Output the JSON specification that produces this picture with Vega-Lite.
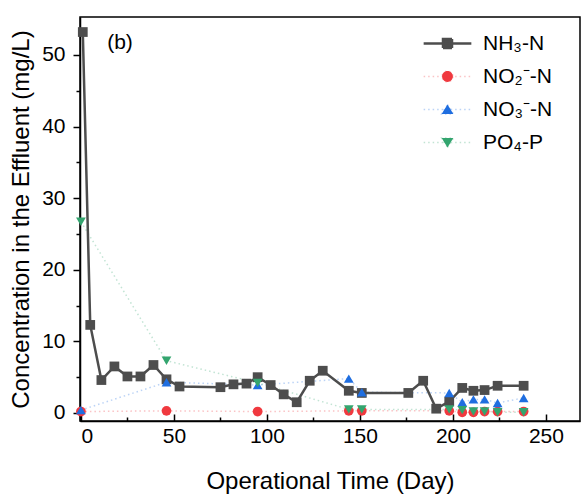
{
  "$schema": "https://vega.github.io/schema/vega-lite/v6.json",
  "width": 500,
  "height": 404,
  "autosize": "none",
  "padding": {"left": 80, "top": 17, "right": 8, "bottom": 79},
  "config": {
    "font": "Liberation Sans",
    "view": {"stroke": "black", "strokeWidth": 1.5},
    "axis": {"grid": false, "domainColor": "black", "domainWidth": 1.5, "tickColor": "black", "tickWidth": 1.5, "labelColor": "black", "titleColor": "black", "labelFontSize": 21, "titleFontSize": 24, "titleFontWeight": "normal"}
  },
  "data": {
    "values": [
      {"series": "NH₃-N", "day": 1, "value": 53.2},
      {"series": "NH₃-N", "day": 5, "value": 12.3},
      {"series": "NH₃-N", "day": 11, "value": 4.6},
      {"series": "NH₃-N", "day": 18, "value": 6.5},
      {"series": "NH₃-N", "day": 25, "value": 5.1},
      {"series": "NH₃-N", "day": 32, "value": 5.1},
      {"series": "NH₃-N", "day": 39, "value": 6.7},
      {"series": "NH₃-N", "day": 46, "value": 4.7},
      {"series": "NH₃-N", "day": 53, "value": 3.7},
      {"series": "NH₃-N", "day": 75, "value": 3.6},
      {"series": "NH₃-N", "day": 82, "value": 4.0},
      {"series": "NH₃-N", "day": 89, "value": 4.1},
      {"series": "NH₃-N", "day": 95, "value": 5.0},
      {"series": "NH₃-N", "day": 102, "value": 3.9},
      {"series": "NH₃-N", "day": 109, "value": 2.6},
      {"series": "NH₃-N", "day": 116, "value": 1.5},
      {"series": "NH₃-N", "day": 123, "value": 4.5},
      {"series": "NH₃-N", "day": 130, "value": 5.9},
      {"series": "NH₃-N", "day": 144, "value": 3.1},
      {"series": "NH₃-N", "day": 151, "value": 2.8},
      {"series": "NH₃-N", "day": 176, "value": 2.8},
      {"series": "NH₃-N", "day": 184, "value": 4.5},
      {"series": "NH₃-N", "day": 191, "value": 0.6},
      {"series": "NH₃-N", "day": 198, "value": 1.6},
      {"series": "NH₃-N", "day": 205, "value": 3.5},
      {"series": "NH₃-N", "day": 211, "value": 3.1},
      {"series": "NH₃-N", "day": 217, "value": 3.2},
      {"series": "NH₃-N", "day": 224, "value": 3.8},
      {"series": "NH₃-N", "day": 238, "value": 3.8},
      {"series": "NO₂⁻-N", "day": 0, "value": 0.2},
      {"series": "NO₂⁻-N", "day": 46, "value": 0.3},
      {"series": "NO₂⁻-N", "day": 95, "value": 0.2},
      {"series": "NO₂⁻-N", "day": 144, "value": 0.3},
      {"series": "NO₂⁻-N", "day": 151, "value": 0.3},
      {"series": "NO₂⁻-N", "day": 198, "value": 0.3},
      {"series": "NO₂⁻-N", "day": 205, "value": 0.1},
      {"series": "NO₂⁻-N", "day": 211, "value": 0.1},
      {"series": "NO₂⁻-N", "day": 217, "value": 0.2},
      {"series": "NO₂⁻-N", "day": 224, "value": 0.2},
      {"series": "NO₂⁻-N", "day": 238, "value": 0.2},
      {"series": "NO₃⁻-N", "day": 0, "value": 0.4},
      {"series": "NO₃⁻-N", "day": 46, "value": 4.3},
      {"series": "NO₃⁻-N", "day": 95, "value": 3.9},
      {"series": "NO₃⁻-N", "day": 144, "value": 4.8},
      {"series": "NO₃⁻-N", "day": 151, "value": 2.9},
      {"series": "NO₃⁻-N", "day": 198, "value": 2.8},
      {"series": "NO₃⁻-N", "day": 205, "value": 1.5},
      {"series": "NO₃⁻-N", "day": 211, "value": 1.9},
      {"series": "NO₃⁻-N", "day": 217, "value": 1.9},
      {"series": "NO₃⁻-N", "day": 224, "value": 1.4},
      {"series": "NO₃⁻-N", "day": 238, "value": 2.1},
      {"series": "PO₄-P", "day": 0, "value": 26.7},
      {"series": "PO₄-P", "day": 46, "value": 7.3},
      {"series": "PO₄-P", "day": 95, "value": 4.2},
      {"series": "PO₄-P", "day": 144, "value": 0.5},
      {"series": "PO₄-P", "day": 151, "value": 0.5},
      {"series": "PO₄-P", "day": 198, "value": 0.5},
      {"series": "PO₄-P", "day": 205, "value": 0.4},
      {"series": "PO₄-P", "day": 211, "value": 0.2},
      {"series": "PO₄-P", "day": 217, "value": 0.2},
      {"series": "PO₄-P", "day": 224, "value": 0.1},
      {"series": "PO₄-P", "day": 238, "value": 0.1}
    ]
  },
  "encoding": {
    "x": {
      "field": "day", "type": "quantitative",
      "scale": {"domain": [-0.5, 268.3], "nice": false, "zero": false},
      "axis": {
        "title": "Operational Time (Day)",
        "values": [0, 25, 50, 75, 100, 125, 150, 175, 200, 225, 250],
        "labelExpr": "datum.value % 50 === 0 ? datum.label : ''",
        "tickSize": {"condition": {"test": "datum.value % 50 === 0", "value": -7}, "value": -4},
        "labelPadding": 11,
        "titlePadding": 23
      }
    },
    "y": {
      "field": "value", "type": "quantitative",
      "scale": {"domain": [-1.12, 55.3], "nice": false, "zero": false},
      "axis": {
        "title": "Concentration in the Effluent (mg/L)",
        "values": [0, 5, 10, 15, 20, 25, 30, 35, 40, 45, 50],
        "labelExpr": "datum.value % 10 === 0 ? datum.label : ''",
        "tickSize": {"condition": {"test": "datum.value % 10 === 0", "value": 7}, "value": 4},
        "labelPadding": 8,
        "titlePadding": 8
      }
    },
    "color": {
      "field": "series", "type": "nominal",
      "scale": {"domain": ["NH₃-N", "NO₂⁻-N", "NO₃⁻-N", "PO₄-P"], "range": ["#4d4d4d", "#f0393f", "#1f6ee0", "#34a56f"]},
      "legend": {
        "orient": "top-right", "offset": 16, "title": "NN", "titleOrient": "right", "titleOpacity": 0, "titleFontSize": 8, "titlePadding": 0,
        "labelFontSize": 21, "labelColor": "black", "symbolSize": 81, "labelOffset": 25, "rowPadding": 11,
        "symbolOpacity": 1,
        "encode": {
          "symbols": {
            "update": {
              "fill": {"scale": "color", "field": "value"},
              "stroke": {"scale": "color", "field": "value"},
              "strokeWidth": {"signal": "datum.value === 'NH₃-N' ? 2.5 : 1.5"},
              "strokeDash": {"signal": "datum.value === 'NH₃-N' ? [1,0] : [1.5,3]"},
              "strokeOpacity": {"signal": "datum.value === 'NH₃-N' ? 1 : 0.3"}
            }
          }
        }
      }
    }
  },
  "layer": [
    {
      "transform": [{"filter": "datum.series !== 'NH₃-N'"}],
      "mark": {"type": "line", "strokeDash": [1.5, 3], "strokeWidth": 1.5, "opacity": 0.3}
    },
    {
      "transform": [{"filter": "datum.series === 'NH₃-N'"}],
      "mark": {"type": "line", "strokeWidth": 2.5}
    },
    {
      "transform": [{"filter": "datum.series === 'NH₃-N'"}],
      "mark": {"type": "point", "filled": true, "opacity": 1, "size": 95, "shape": "square"}
    },
    {
      "transform": [{"filter": "datum.series === 'NO₂⁻-N'"}],
      "mark": {"type": "point", "filled": true, "opacity": 1, "size": 95, "shape": "circle"}
    },
    {
      "transform": [{"filter": "datum.series === 'NO₃⁻-N'"}],
      "mark": {"type": "point", "filled": true, "opacity": 1, "size": 95, "shape": "triangle-up"}
    },
    {
      "transform": [{"filter": "datum.series === 'PO₄-P'"}],
      "mark": {"type": "point", "filled": true, "opacity": 1, "size": 95, "shape": "triangle-down"}
    },
    {
      "transform": [{"filter": "datum.day < -100"}],
      "mark": {"type": "point", "filled": true, "opacity": 1, "size": 95},
      "encoding": {
        "shape": {
          "field": "series", "type": "nominal",
          "scale": {"domain": ["NH₃-N", "NO₂⁻-N", "NO₃⁻-N", "PO₄-P"], "range": ["M-5.3,0H5.3M-1,-1H1V1H-1Z", "M-5.3,0H5.3M1.2,0A1.2,1.2,0,1,1,-1.2,0A1.2,1.2,0,1,1,1.2,0Z", "M-5.3,0H5.3M0,-1.1L1.3,1H-1.3Z", "M-5.3,0H5.3M0,1.1L1.3,-1H-1.3Z"]}
        }
      }
    },
    {
      "transform": [{"filter": "datum.day === 1"}],
      "mark": {"type": "text", "text": "(b)", "fontSize": 21, "align": "center", "baseline": "middle", "color": "black"},
      "encoding": {"x": {"datum": 21}, "y": {"datum": 51.7}, "color": {"value": "black"}}
    }
  ]
}
